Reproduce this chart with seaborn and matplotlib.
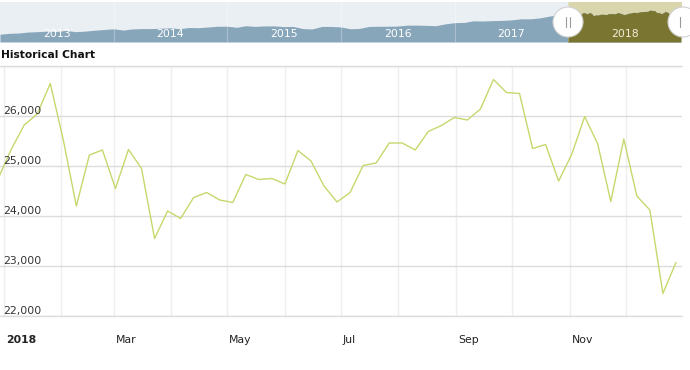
import pandas as pd
import numpy as np
import matplotlib
matplotlib.use("Agg")
import matplotlib.pyplot as plt
import matplotlib.dates as mdates
import matplotlib.patches as mpatches
from matplotlib.lines import Line2D
from matplotlib.transforms import offset_copy
import seaborn as sns

# weekly closes for 2018 (main chart)
week_start = "2017-12-29"
weekly_close = [24750, 25330, 25820, 26040, 26650, 25520, 24200, 25220, 25320, 24550,
                25330, 24950, 23550, 24100, 23950, 24370, 24470, 24320, 24270, 24830,
                24730, 24750, 24640, 25310, 25100, 24600, 24280, 24470, 25010, 25060,
                25460, 25460, 25320, 25690, 25810, 25970, 25920, 26140, 26730, 26470,
                26450, 25350, 25430, 24700, 25230, 25990, 25440, 24290, 25540, 24400,
                24120, 22450, 23070]

# monthly levels 2013-2017 for the navigator strip (rough reading of the thumbnail)
nav_start = "2013-01-01"
nav_monthly = [13400, 13900, 14050, 14600, 14800, 15100, 14900, 15500, 14800, 15100, 15600, 16000,
               16400, 15700, 16300, 16500, 16500, 16700, 16900, 16500, 17100, 17000, 17400, 17800,
               17800, 17200, 18100, 17700, 18000, 18000, 17600, 17700, 16500, 16300, 17700, 17700,
               17400, 16400, 16600, 17700, 17800, 17800, 17900, 18400, 18400, 18300, 18100, 19100,
               19800, 19900, 20800, 20700, 20900, 21000, 21300, 21900, 21900, 22400, 23400, 24300]

nav_years = [2013, 2014, 2015, 2016, 2017, 2018]
y_ticks = [22000, 23000, 24000, 25000, 26000, 27000]
x_labels = {1: "2018", 3: "Mar", 5: "May", 7: "Jul", 9: "Sep", 11: "Nov"}

LINE_COLOR = "#c8d76c"
W, H = 690, 370

df = pd.DataFrame({
    "date": pd.date_range(week_start, periods=len(weekly_close), freq="7D"),
    "close": weekly_close,
})
nav_df = pd.DataFrame({
    "date": pd.date_range(nav_start, periods=len(nav_monthly), freq="MS"),
    "close": nav_monthly,
})
nav_df = pd.concat([nav_df, df], ignore_index=True)

sns.set_style("white")
plt.rcParams["font.family"] = ["DejaVu Sans"]

fig = plt.figure(figsize=(W / 100, H / 100), dpi=100)

# ---------------------------------------------------------
# main chart
# ---------------------------------------------------------
ax = fig.add_axes([0, (H - 316) / H, 682 / W, (316 - 66) / H])
sns.lineplot(data=df, x="date", y="close", ax=ax, color=LINE_COLOR, linewidth=1.0)
ax.set_xlim(pd.Timestamp("2017-12-30"), pd.Timestamp("2018-12-31 06:00"))
ax.set_ylim(y_ticks[0], y_ticks[-1])
ax.set_yticks(y_ticks)
ax.xaxis.set_major_locator(mdates.MonthLocator())
ax.set_xlabel("")
ax.set_ylabel("")
for s in ax.spines.values():
    s.set_visible(False)
ax.grid(axis="y", color="#dcdcdc", linewidth=1)
ax.grid(axis="x", color="#eeeeee", linewidth=1)
ax.tick_params(axis="y", length=0, labelleft=False)
ax.tick_params(axis="x", length=6, width=1, color="#eaeaea", labelbottom=False)
# edge gridlines (22,000 / 27,000) would be half clipped otherwise
for v in (y_ticks[0], y_ticks[-1]):
    ax.axhline(v, color="#dcdcdc", linewidth=1, clip_on=False, zorder=0.5)

ylab_tr = offset_copy(ax.get_yaxis_transform(), fig=fig, x=3, y=5, units="dots")
for v in y_ticks[:-1]:
    ax.text(0, v, f"{v:,}", transform=ylab_tr, ha="left", va="center",
            fontsize=7.8, color="#333333")

xlab_tr = offset_copy(ax.get_xaxis_transform(), fig=fig, x=2, y=-24, units="dots")
for m, lab in x_labels.items():
    ax.text(pd.Timestamp(2018, m, 1), 0, lab, transform=xlab_tr, ha="left", va="center",
            fontsize=7.8, color="#222222", fontweight="bold" if m == 1 else "normal")

fig.text(1 / W, (H - 55) / H, "Historical Chart", fontsize=7.7, fontweight="bold",
         ha="left", va="center", color="#111111")

# ---------------------------------------------------------
# navigator strip
# ---------------------------------------------------------
nav = fig.add_axes([0, (H - 42) / H, 682 / W, 40 / H])
nav.set_facecolor("#eaeff4")
sel_lo, sel_hi = pd.Timestamp("2018-01-01"), pd.Timestamp("2019-01-01")
nav.axvspan(sel_lo, sel_hi, color="#d9d6ad", linewidth=0, zorder=0)
nav.fill_between(nav_df["date"], nav_df["close"], 9100, color="#88a6ba", linewidth=0, zorder=1)
olive = nav.fill_between(nav_df["date"], nav_df["close"], 9100, color="#7b7532", linewidth=0, zorder=2)
clip = mpatches.Rectangle((mdates.date2num(sel_lo), 0), 400, 40000, transform=nav.transData)
olive.set_clip_path(clip)
nav.set_xlim(pd.Timestamp("2013-01-01"), sel_hi)
nav.set_ylim(9100, 31200)
for yr in nav_years[1:]:
    nav.axvline(pd.Timestamp(yr, 1, 1), color="white", alpha=0.3, linewidth=0.8, zorder=3)
for yr in nav_years:
    nav.text(pd.Timestamp(yr, 7, 2), 0.21, str(yr), transform=nav.get_xaxis_transform(),
             ha="center", va="center", fontsize=7.8,
             color="#f3efd6" if yr == 2018 else "white", zorder=4)
nav.set_xticks([])
nav.set_yticks([])
nav.set_xlabel("")
nav.set_ylabel("")
for s in nav.spines.values():
    s.set_visible(False)

# slider handles
for cx, bars in [(568, (-2, 2)), (683, (-3,))]:
    cy = 22
    fig.add_artist(mpatches.Ellipse((cx / W, (H - cy) / H), 30 / W, 30 / H,
                                    transform=fig.transFigure, facecolor="white",
                                    edgecolor="#d0d0d0", linewidth=0.8, zorder=10))
    for dx in bars:
        fig.add_artist(Line2D([(cx + dx) / W] * 2, [(H - cy - 5) / H, (H - cy + 5) / H],
                              transform=fig.transFigure, color="#999999", linewidth=0.8, zorder=11))

fig.savefig("out.png", dpi=100)
